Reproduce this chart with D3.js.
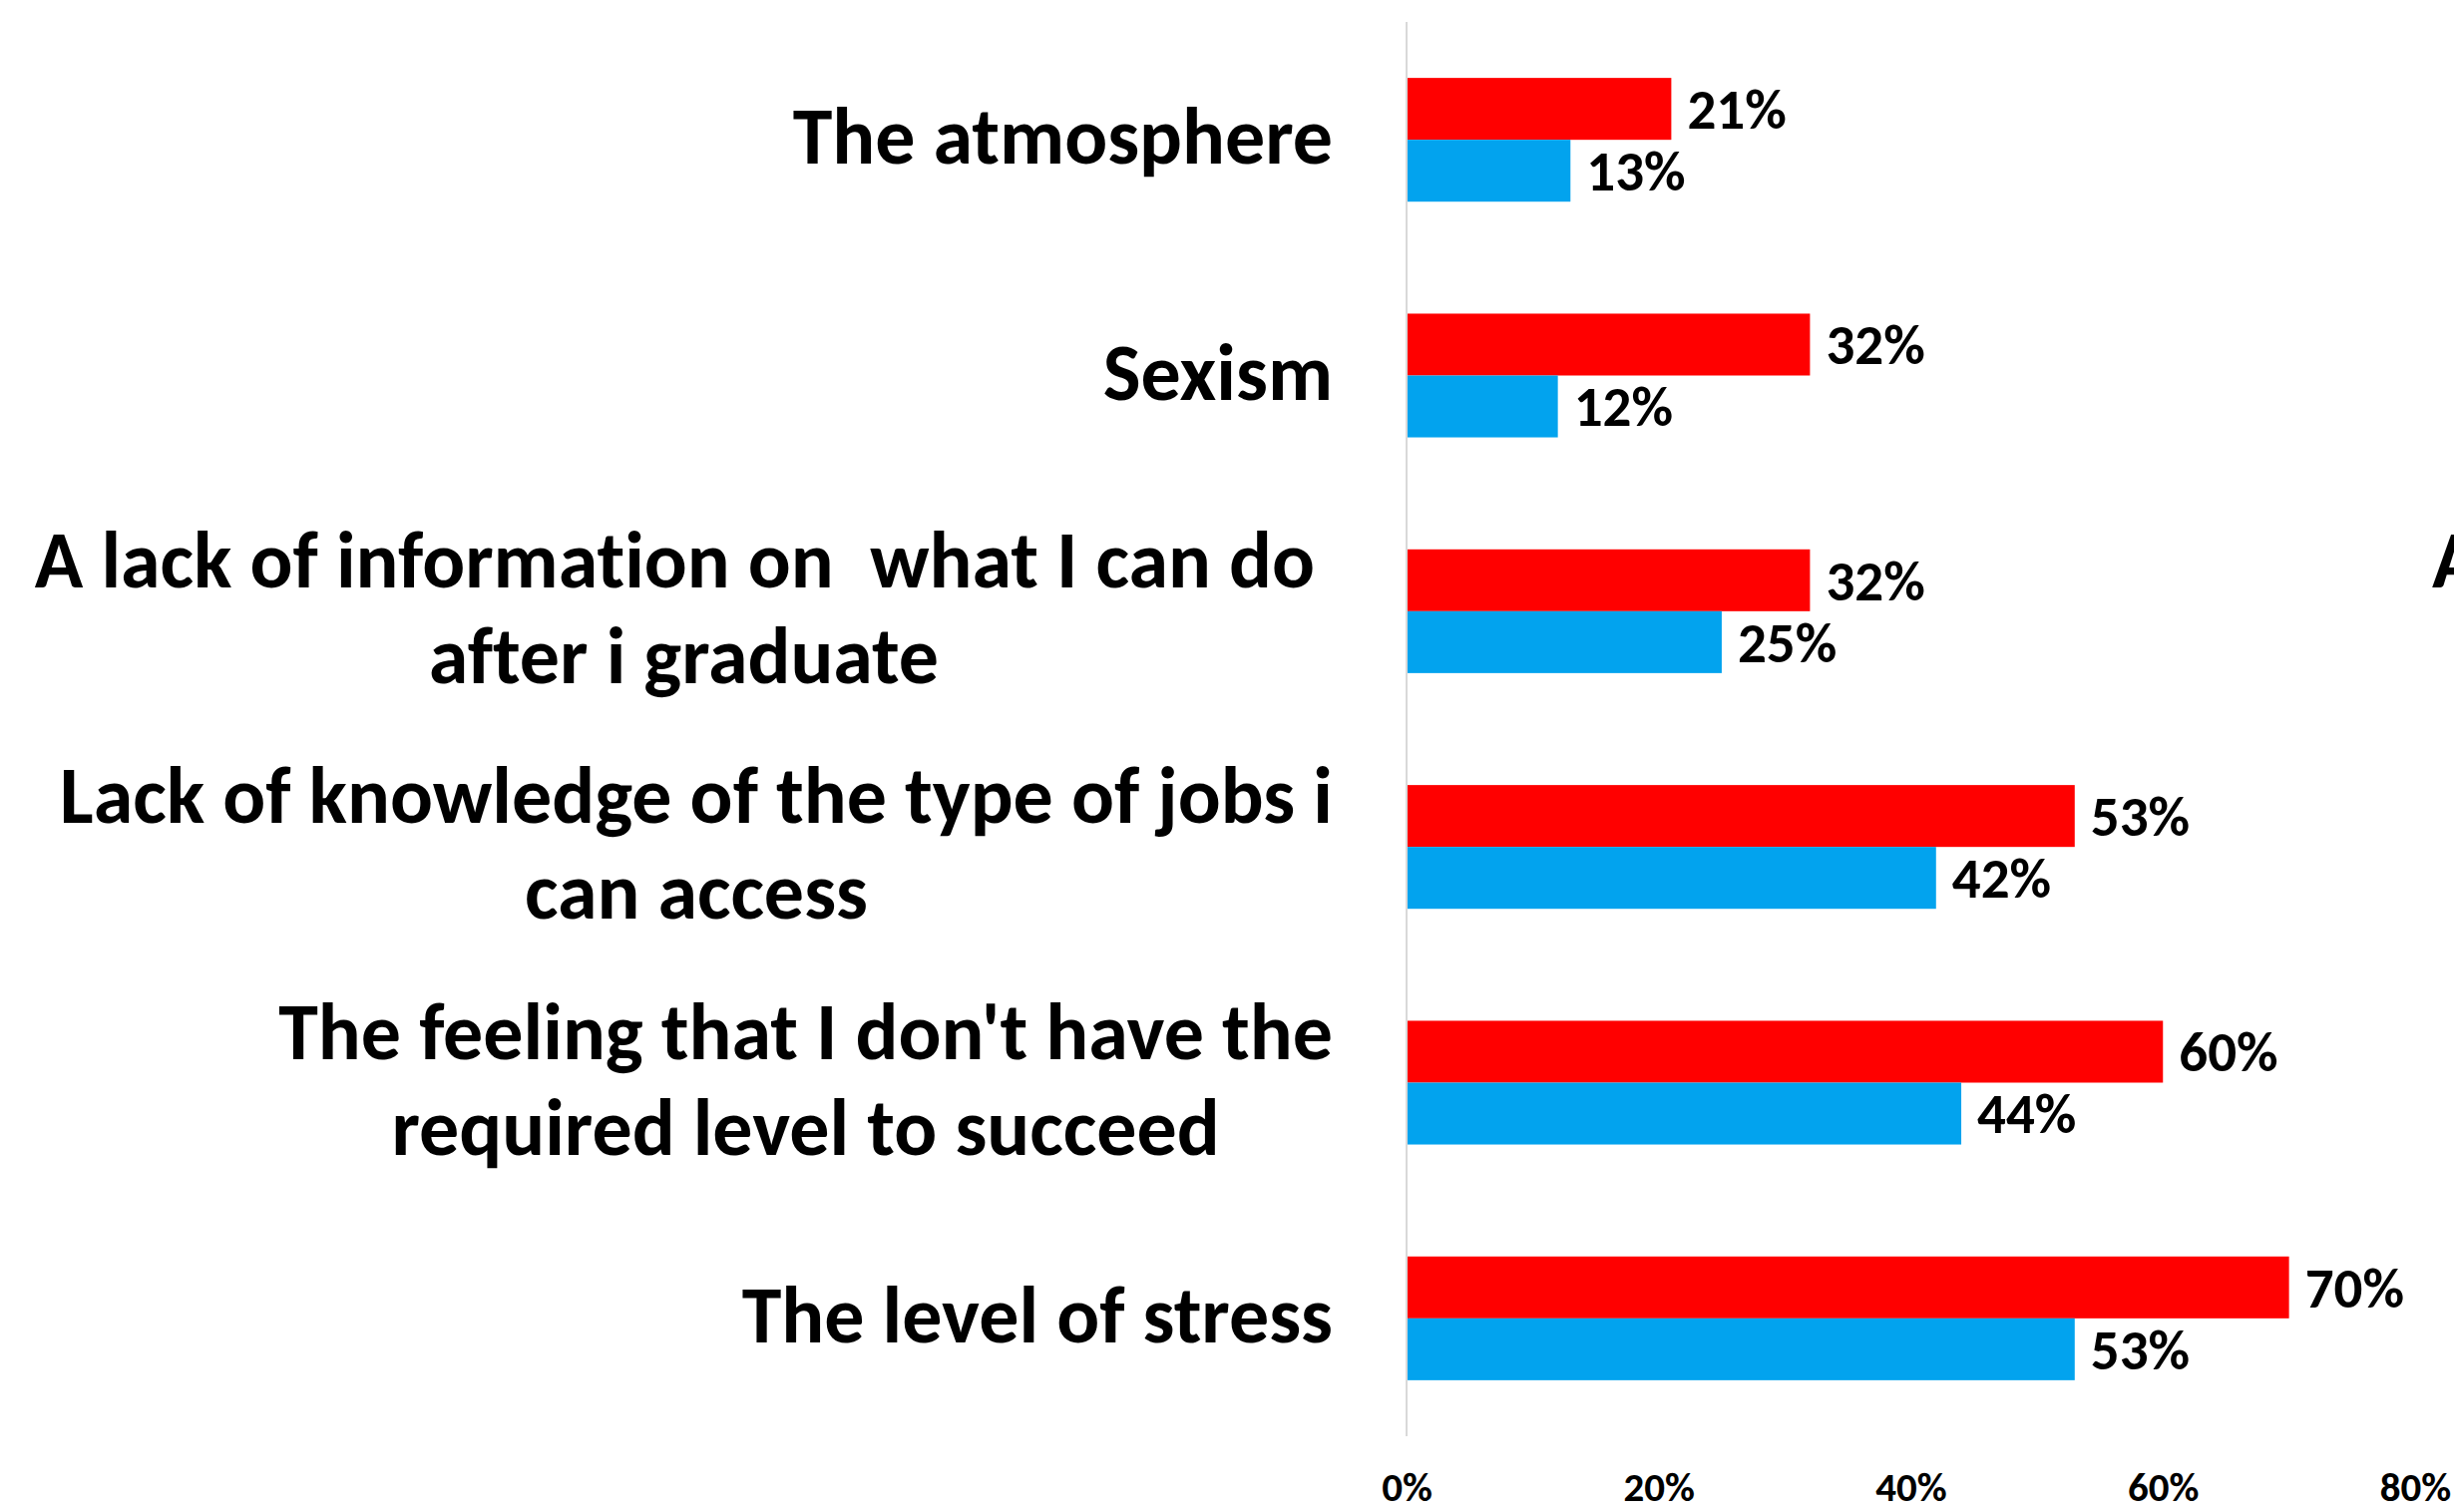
<!DOCTYPE html>
<html>
<head>
<meta charset="utf-8">
<script src="https://cdn.jsdelivr.net/npm/d3@7"></script>
<style>
  html, body { margin: 0; padding: 0; background: #ffffff; }
  svg { display: block; }
  text { font-family: Carlito, Calibri, Lato, sans-serif; font-weight: 700; fill: #000; white-space: pre; font-variant-ligatures: none; }
</style>
</head>
<body>
<script>
// Categories, top to bottom; "\n" marks a line break in the label
const categories = [
  "The atmosphere",
  "Sexism",
  "A lack of information on  what I can do \nafter i graduate",
  "Lack of knowledge of the type of jobs i\ncan access",
  "The feeling that I don't have the\nrequired level to succeed",
  "The level of stress"
];
const seriesKeys = ["red", "blue"];
const redValues  = [0.21, 0.32, 0.32, 0.53, 0.60, 0.70];
const blueValues = [0.13, 0.12, 0.25, 0.42, 0.44, 0.53];
const xTicks = [0, 0.2, 0.4, 0.6, 0.8];
const seriesColors = { red: "#ff0000", blue: "#02a3ee" };

const W = 2460, H = 1516;
const x0 = 1410, x1 = 2421, yTop = 22, yBottom = 1440;

const rows = categories.map((c, i) => ({ category: c, red: redValues[i], blue: blueValues[i] }));

const svg = d3.select("body").append("svg")
  .attr("width", W).attr("height", H)
  .attr("viewBox", `0 0 ${W} ${H}`);

const x = d3.scaleLinear().domain([0, 0.8]).range([x0, x1]);
const y = d3.scaleBand().domain(categories).range([yTop, yBottom])
  .paddingInner(0.475).paddingOuter(0.2375);
const ySub = d3.scaleBand().domain(seriesKeys).range([0, y.bandwidth()]);
const pct = d3.format(".0%");

// Bars
const groups = svg.append("g").selectAll("g").data(rows).join("g")
  .attr("transform", d => `translate(0,${y(d.category)})`);

groups.selectAll("rect").data(d => seriesKeys.map(k => ({ key: k, value: d[k] }))).join("rect")
  .attr("x", x(0))
  .attr("y", d => ySub(d.key))
  .attr("width", d => x(d.value) - x(0))
  .attr("height", ySub.bandwidth())
  .attr("fill", d => seriesColors[d.key]);

// Value labels
groups.selectAll("text.value").data(d => seriesKeys.map(k => ({ key: k, value: d[k] }))).join("text")
  .attr("class", "value")
  .attr("x", d => x(d.value) + 16)
  .attr("y", d => ySub(d.key) + ySub.bandwidth() / 2 + 6)
  .attr("dominant-baseline", "middle")
  .style("font-size", "57px")
  .text(d => pct(d.value));

// Vertical axis line at 0%
svg.append("line")
  .attr("x1", x(0)).attr("x2", x(0))
  .attr("y1", yTop).attr("y2", yBottom)
  .attr("stroke", "#d9d9d9").attr("stroke-width", 2);

// Bottom axis tick labels
const xAxis = d3.axisBottom(x).tickValues(xTicks).tickFormat(pct).tickSize(0).tickPadding(0);
const gx = svg.append("g").attr("transform", `translate(0,${1476})`).call(xAxis);
gx.select(".domain").remove();
gx.selectAll("text")
  .attr("font-family", null)
  .style("font-size", "41px")
  .attr("fill", "#000");

// Category labels: each block right-aligned, lines centred within the block
const labelRight = 1336, lineGap = 96;
const labels = svg.append("g").selectAll("text").data(categories).join("text")
  .style("font-size", "80px")
  .attr("dominant-baseline", "middle");

labels.each(function (c) {
  const t = d3.select(this);
  const lines = c.split("\n");
  const cy = y(c) + y.bandwidth() / 2 + 5;
  lines.forEach((ln, i) => {
    t.append("tspan").text(ln)
      .attr("y", cy + (i - (lines.length - 1) / 2) * lineGap);
  });
  let maxW = 0;
  t.selectAll("tspan").each(function () { maxW = Math.max(maxW, this.getComputedTextLength()); });
  t.attr("text-anchor", "middle");
  t.selectAll("tspan").attr("x", labelRight - maxW / 2);
});

// Edge of the neighbouring label block, cut off by the page border
svg.append("text")
  .attr("x", 2438)
  .attr("y", y(categories[2]) + y.bandwidth() / 2 - lineGap / 2 + 5)
  .attr("dominant-baseline", "middle")
  .style("font-size", "80px")
  .text("A lack of information on  what I can do ");
</script>
</body>
</html>
